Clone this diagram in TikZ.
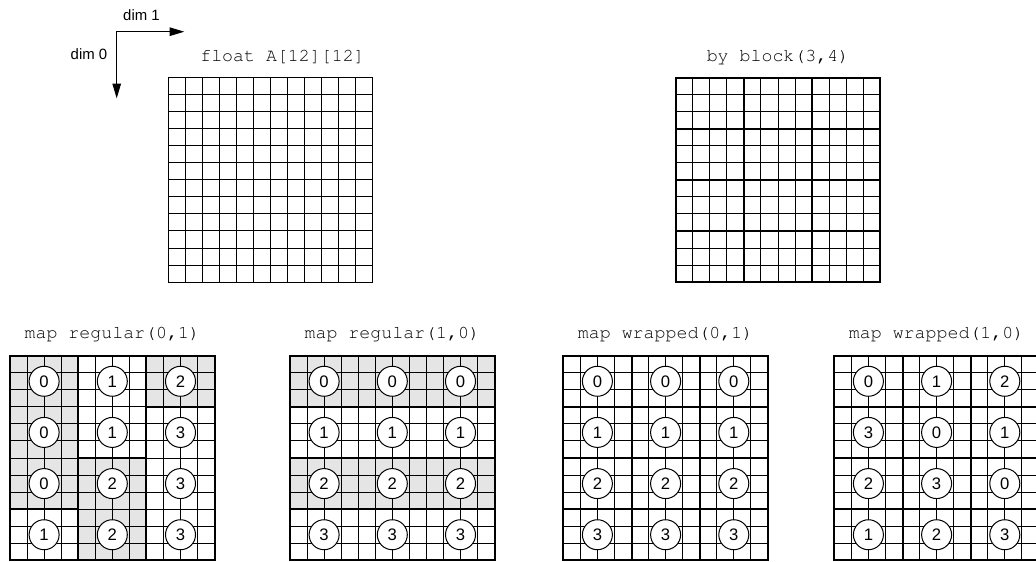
\documentclass[tikz,border=0pt]{standalone}
\usepackage[T1,TU]{fontenc}
\usepackage{fontspec}
\newfontfamily\sansf{Liberation Sans}
\newcommand\courierf{\fontencoding{T1}\fontfamily{pcr}\fontseries{m}\fontshape{n}\selectfont}
\usetikzlibrary{arrows.meta}
\tikzset{
  gl/.style={line width=0.75pt, black},
  tk/.style={line width=1.5pt, black, line cap=rect},
  title/.style={font=\courierf\fontsize{13.7}{16}\selectfont, inner sep=0pt, anchor=base},
  proc/.style={circle, draw, line width=0.75pt, fill=white, minimum size=22.5pt, inner sep=0pt, font=\sansf\fontsize{12.5}{14}\selectfont},
  dimlbl/.style={font=\sansf\fontsize{11.2}{13}\selectfont, inner sep=0pt, anchor=base},
  axis/.style={line width=0.75pt, {Triangle[length=11pt,width=6.4pt]}-{Triangle[length=11pt,width=6.4pt]}},
  shadeblk/.style={fill=black!10}
}
\def\cs{17.05}
\def\mapRA{{0,1,2,0,1,3,0,2,3,1,2,3}}
\def\mapRB{{0,0,0,1,1,1,2,2,2,3,3,3}}
\def\mapWA{{0,0,0,1,1,1,2,2,2,3,3,3}}
\def\mapWB{{0,1,2,3,0,1,2,3,0,1,2,3}}

\newcommand\cellgrid[2]{%
  \foreach \i in {0,...,12}{
    \draw[gl] ({#1+\i*\cs},#2) -- ({#1+\i*\cs},{#2+12*\cs});
    \draw[gl] (#1,{#2+\i*\cs}) -- ({#1+12*\cs},{#2+\i*\cs});
  }}
\newcommand\shadeblocks[3]{%
  \foreach \r in {0,...,3}{\foreach \c in {0,1,2}{
    \pgfmathtruncatemacro\p{#3[\r*3+\c]}
    \ifodd\p\relax\else
      \fill[shadeblk] ({#1+\c*4*\cs},{#2+\r*3*\cs}) rectangle ++({4*\cs},{3*\cs});
    \fi
  }}}
\newcommand\diffborders[3]{%
  \foreach \r in {0,...,3}{\foreach \c in {0,1}{
    \pgfmathtruncatemacro\pa{#3[\r*3+\c]}
    \pgfmathtruncatemacro\pb{#3[\r*3+\c+1]}
    \ifnum\pa=\pb\relax\else
      \draw[tk] ({#1+(\c+1)*4*\cs},{#2+\r*3*\cs}) -- ++(0,{3*\cs});
    \fi
  }}
  \foreach \r in {0,1,2}{\foreach \c in {0,1,2}{
    \pgfmathtruncatemacro\pa{#3[\r*3+\c]}
    \pgfmathtruncatemacro\pb{#3[(\r+1)*3+\c]}
    \ifnum\pa=\pb\relax\else
      \draw[tk] ({#1+\c*4*\cs},{#2+(\r+1)*3*\cs}) -- ++({4*\cs},0);
    \fi
  }}}
\newcommand\allborders[2]{%
  \foreach \k in {1,2}{\draw[tk] ({#1+\k*4*\cs},#2) -- ++(0,{12*\cs});}
  \foreach \k in {1,2,3}{\draw[tk] (#1,{#2+\k*3*\cs}) -- ++({12*\cs},0);}
}
\newcommand\outerbox[2]{\draw[tk] (#1,#2) rectangle ++({12*\cs},{12*\cs});}
\newcommand\procs[4]{% name x y map
  \foreach \r in {0,...,3}{\foreach \c in {0,1,2}{
    \pgfmathtruncatemacro\p{#4[\r*3+\c]}
    \node[proc] (#1-\r-\c) at ({#2+(\c*4+2)*\cs},{#3+(\r*3+1.5)*\cs}) {\p};
  }}}

\begin{document}
\begin{tikzpicture}[x=0.75pt,y=-0.75pt]
\useasboundingbox (0,0) rectangle (1036,561);

% axes
\coordinate (o) at (116.7,31.7);
\coordinate (e1) at (184.3,31.7);
\coordinate (e0) at (116.7,98.3);
\draw[axis] (e0) -- (o) -- (e1);
\node[dimlbl] (d1) at (141.5,20.7) {dim 1};
\node[dimlbl] (d0) at (89,59.3) {dim 0};

% float A
\node[title] (tA) at (282.5,61.7) {float A[12][12]};
\cellgrid{168.3}{77.5}
\draw[gl] (168.3,77.5) rectangle ++({12*\cs},{12*\cs});

% by block
\node[title] (tB) at ({675.7+6*\cs},61.7) {by block(3,4)};
\cellgrid{675.7}{77.5}
\allborders{675.7}{77.5}
\outerbox{675.7}{77.5}

% map regular(0,1)
\node[title] (tRA) at ({10+6*\cs},338) {map regular(0,1)};
\shadeblocks{10}{355.7}{\mapRA}
\cellgrid{10}{355.7}
\diffborders{10}{355.7}{\mapRA}
\outerbox{10}{355.7}
\procs{RA}{10}{355.7}{\mapRA}

% map regular(1,0)
\node[title] (tRB) at ({290+6*\cs},338) {map regular(1,0)};
\shadeblocks{290}{355.7}{\mapRB}
\cellgrid{290}{355.7}
\diffborders{290}{355.7}{\mapRB}
\outerbox{290}{355.7}
\procs{RB}{290}{355.7}{\mapRB}

% map wrapped(0,1)
\node[title] (tWA) at ({563.3+6*\cs},338) {map wrapped(0,1)};
\cellgrid{563.3}{355.7}
\allborders{563.3}{355.7}
\outerbox{563.3}{355.7}
\procs{WA}{563.3}{355.7}{\mapWA}

% map wrapped(1,0)
\node[title] (tWB) at ({834.3+6*\cs},338) {map wrapped(1,0)};
\cellgrid{834.3}{355.7}
\allborders{834.3}{355.7}
\outerbox{834.3}{355.7}
\procs{WB}{834.3}{355.7}{\mapWB}
\end{tikzpicture}
\end{document}
